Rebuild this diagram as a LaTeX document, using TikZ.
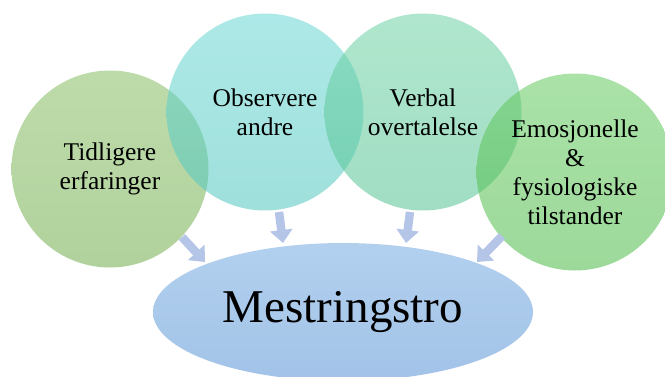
\documentclass[tikz,border=0pt]{standalone}
\usepackage{fontspec}
\setmainfont{Liberation Serif}
\usetikzlibrary{arrows.meta,shapes.geometric}
\definecolor{cTidT}{RGB}{135,190,100}
\definecolor{cTidB}{RGB}{112,172,75}
\definecolor{cObsT}{RGB}{105,215,212}
\definecolor{cObsB}{RGB}{80,198,190}
\definecolor{cVerT}{RGB}{110,210,165}
\definecolor{cVerB}{RGB}{82,194,145}
\definecolor{cEmoT}{RGB}{100,202,95}
\definecolor{cEmoB}{RGB}{75,186,70}
\definecolor{cMesT}{RGB}{178,208,238}
\definecolor{cMesB}{RGB}{162,195,232}
\definecolor{cArrow}{RGB}{180,197,231}
\tikzset{
  bubble/.style={circle, minimum size=197pt, inner sep=0pt, fill opacity=0.55, text opacity=1,
    align=center, font=\fontsize{25.5}{29}\selectfont},
  flow/.style={draw=cArrow, line width=8.5pt, -{Triangle[length=13pt,width=22pt]}},
}
\begin{document}
\begin{tikzpicture}[x=1pt,y=-1pt]
\useasboundingbox (0,0) rectangle (665,376);
\clip (0,0) rectangle (665,376);
\node[bubble, top color=cTidT, bottom color=cTidB] (tid) at (110,169) {Tidligere\\erfaringer};
\node[bubble, top color=cObsT, bottom color=cObsB] (obs) at (265,112) {Observere\\andre};
\node[bubble, top color=cVerT, bottom color=cVerB] (ver) at (423,112) {Verbal\\overtalelse};
\node[bubble, top color=cEmoT, bottom color=cEmoB] (emo) at (575,172) {Emosjonelle\\\&\\fysiologiske\\tilstander};
\node[ellipse, minimum width=380pt, minimum height=138pt, inner sep=0pt,
      top color=cMesT, bottom color=cMesB, font=\fontsize{47}{56}\selectfont] (mes) at (343,312) {Mestringstro};
\coordinate (a1s) at (182,237); \coordinate (a1e) at (205,262);
\coordinate (a2s) at (279,212); \coordinate (a2e) at (283,243);
\coordinate (a3s) at (410,212); \coordinate (a3e) at (406,243);
\coordinate (a4s) at (502,236); \coordinate (a4e) at (477,262);
\draw[flow] (a1s) -- (a1e);
\draw[flow] (a2s) -- (a2e);
\draw[flow] (a3s) -- (a3e);
\draw[flow] (a4s) -- (a4e);
\end{tikzpicture}
\end{document}
